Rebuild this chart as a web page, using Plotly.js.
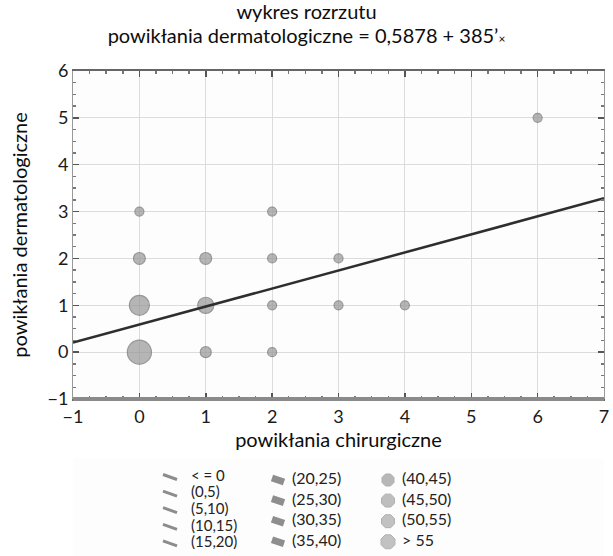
<!DOCTYPE html>
<html>
<head>
<meta charset="utf-8">
<script src="https://cdn.plot.ly/plotly-3.0.1.min.js"></script>
<style>html,body{margin:0;padding:0;background:#fff}#chart{width:613px;height:556px}</style>
</head>
<body>
<div id="chart"></div>
<script>
// ---- data ----
const surgical      = [0, 0, 0, 0, 1, 1, 1, 2, 2, 2, 2, 3, 3, 4, 6];   // powikłania chirurgiczne
const dermatologic  = [0, 1, 2, 3, 0, 1, 2, 0, 1, 2, 3, 1, 2, 1, 5];   // powikłania dermatologiczne
const counts        = [58, 40, 14, 3, 12, 26, 14, 4, 5, 3, 2, 3, 2, 2, 1]; // number of patients per point
const intercept = 0.5878;
const slope = 0.385;
const lineX = [-1, 7];
const binLabels = ['< = 0', '(0,5)', '(5,10)', '(10,15)', '(15,20)',
                   '(20,25)', '(25,30)', '(30,35)', '(35,40)',
                   '(40,45)', '(45,50)', '(50,55)', '> 55'];
const binColumn = [0, 0, 0, 0, 0, 1, 1, 1, 1, 2, 2, 2, 2];
const binRow    = [0, 1, 2, 3, 4, 0, 1, 2, 3, 0, 1, 2, 3];
const xTicks = [-1, 0, 1, 2, 3, 4, 5, 6, 7];
const yTicks = [-1, 0, 1, 2, 3, 4, 5, 6];

// ---- styles / layout constants (legend key drawn on its own pixel-scaled axes) ----
const FONT = 'Lato, "Open Sans", sans-serif';
const colSymbolX = [170, 278, 388];
const colTextX   = [191, 292, 402];
const colRowTop  = [477, 480, 480];
const colRowStep = [16.6, 20.6, 20.6];
const colFont    = [15, 16, 16];
const strokeHalfW = [7, 6];     // half length of slanted key strokes (columns 1 and 2)
const strokeHalfD = [2.5, 2];   // half drop of slanted key strokes
const strokeWidth = [3, 7];
const strokeColor = ['#8c8c8c', '#8e8e8e'];
const blobSizes  = [13, 14, 14, 15];
const blobColors = ['#9a9a9a', '#a4a4a4', '#a8a8a8', '#aaaaaa'];

const traces = [];
traces.push({
  type: 'scatter', mode: 'markers',
  x: surgical, y: dermatologic,
  marker: { size: counts, sizemode: 'area', sizeref: 0.2, sizemin: 4.5,
            color: '#979797', line: { color: '#6e6e6e', width: 1.2 } },
  showlegend: false, hoverinfo: 'x+y'
});
traces.push({
  type: 'scatter', mode: 'lines',
  x: lineX, y: lineX.map(v => intercept + slope * v),
  line: { color: '#2e2e2e', width: 2.5 },
  showlegend: false, hoverinfo: 'skip'
});

// legend key
const legX = binLabels.map((_, i) => colSymbolX[binColumn[i]]);
const legY = binLabels.map((_, i) => colRowTop[binColumn[i]] + binRow[i] * colRowStep[binColumn[i]]);
[0, 1].forEach(c => {
  const sx = [], sy = [];
  binLabels.forEach((_, i) => {
    if (binColumn[i] !== c) return;
    sx.push(legX[i] - strokeHalfW[c], legX[i] + strokeHalfW[c], null);
    sy.push(legY[i] - strokeHalfD[c], legY[i] + strokeHalfD[c], null);
  });
  traces.push({
    type: 'scatter', mode: 'lines', xaxis: 'x2', yaxis: 'y2', x: sx, y: sy,
    line: { color: strokeColor[c], width: strokeWidth[c] },
    showlegend: false, hoverinfo: 'skip', cliponaxis: false
  });
});
const blobIdx = binLabels.map((_, i) => i).filter(i => binColumn[i] === 2);
traces.push({
  type: 'scatter', mode: 'markers', xaxis: 'x2', yaxis: 'y2',
  x: blobIdx.map(i => legX[i]), y: blobIdx.map(i => legY[i]),
  marker: { symbol: 'octagon', size: blobSizes, color: blobColors, line: { color: '#919191', width: 1 } },
  showlegend: false, hoverinfo: 'skip', cliponaxis: false
});
traces.push({
  type: 'scatter', mode: 'text', xaxis: 'x2', yaxis: 'y2',
  x: binLabels.map((_, i) => colTextX[binColumn[i]]), y: legY,
  text: binLabels, textposition: 'middle right',
  textfont: { family: FONT, size: binLabels.map((_, i) => colFont[binColumn[i]]), color: '#222' },
  showlegend: false, hoverinfo: 'skip', cliponaxis: false
});

const layout = {
  width: 613, height: 556,
  margin: { l: 73, r: 9, t: 71, b: 0, pad: 0 },
  paper_bgcolor: '#ffffff', plot_bgcolor: '#fdfdfd',
  font: { family: FONT, color: '#1a1a1a', size: 17 },
  title: {
    text: '<span style="font-size:20px">wykres rozrzutu</span><br><span style="font-size:20px">powikłania dermatologiczne = 0,5878 + 385’</span><span style="font-size:12px">×</span>',
    font: { family: FONT, size: 18, color: '#0d0d0d' },
    x: 0.5, xref: 'container', xanchor: 'center', y: 0.965, yref: 'container', yanchor: 'top'
  },
  xaxis: {
    range: [-1, 7], tickvals: xTicks, ticktext: xTicks.map(v => v < 0 ? '−' + Math.abs(v) : String(v)),
    showgrid: true, gridcolor: '#dcdcdc', gridwidth: 1, zeroline: false,
    showline: true, linecolor: '#666', linewidth: 2, mirror: 'ticks',
    ticks: 'inside', ticklen: 6, tickcolor: '#555', tickwidth: 1.5,
    minor: { dtick: 0.25, ticks: 'inside', ticklen: 3, tickcolor: '#777', showgrid: false },
    tickfont: { size: 18, family: FONT, color: '#1a1a1a' },
    title: { text: 'powikłania chirurgiczne', font: { size: 20, family: FONT, color: '#0d0d0d' }, standoff: 7 },
    automargin: false, fixedrange: true
  },
  yaxis: {
    domain: [0.3237, 1],
    range: [-1, 6], tickvals: yTicks, ticktext: yTicks.map(v => v < 0 ? '−' + Math.abs(v) : String(v)),
    showgrid: true, gridcolor: '#dcdcdc', gridwidth: 1, zeroline: false,
    showline: true, linecolor: '#999', linewidth: 1, mirror: 'ticks',
    ticks: 'inside', ticklen: 6, tickcolor: '#555', tickwidth: 1.5,
    minor: { dtick: 0.25, ticks: 'inside', ticklen: 3, tickcolor: '#777', showgrid: false },
    tickfont: { size: 18, family: FONT, color: '#1a1a1a' },
    title: { text: 'powikłania dermatologiczne', font: { size: 20, family: FONT, color: '#0d0d0d' }, standoff: 14 },
    automargin: false, fixedrange: true
  },
  // legend axes: one unit = one pixel of the page (y grows downward)
  xaxis2: { domain: [0, 1], range: [73, 604], anchor: 'y2', visible: false, fixedrange: true },
  yaxis2: { domain: [0, 0.2], range: [556, 556 - 0.2 * 485], anchor: 'x2', visible: false, fixedrange: true },
  shapes: [
    { type: 'line', xref: 'x domain', yref: 'y domain', x0: 0, x1: 1, y0: 0, y1: 0,
      line: { color: '#8a8a8a', width: 4 } }
  ],
  showlegend: false
};

Plotly.newPlot('chart', traces, layout, { displayModeBar: false, staticPlot: true });
</script>
</body>
</html>
